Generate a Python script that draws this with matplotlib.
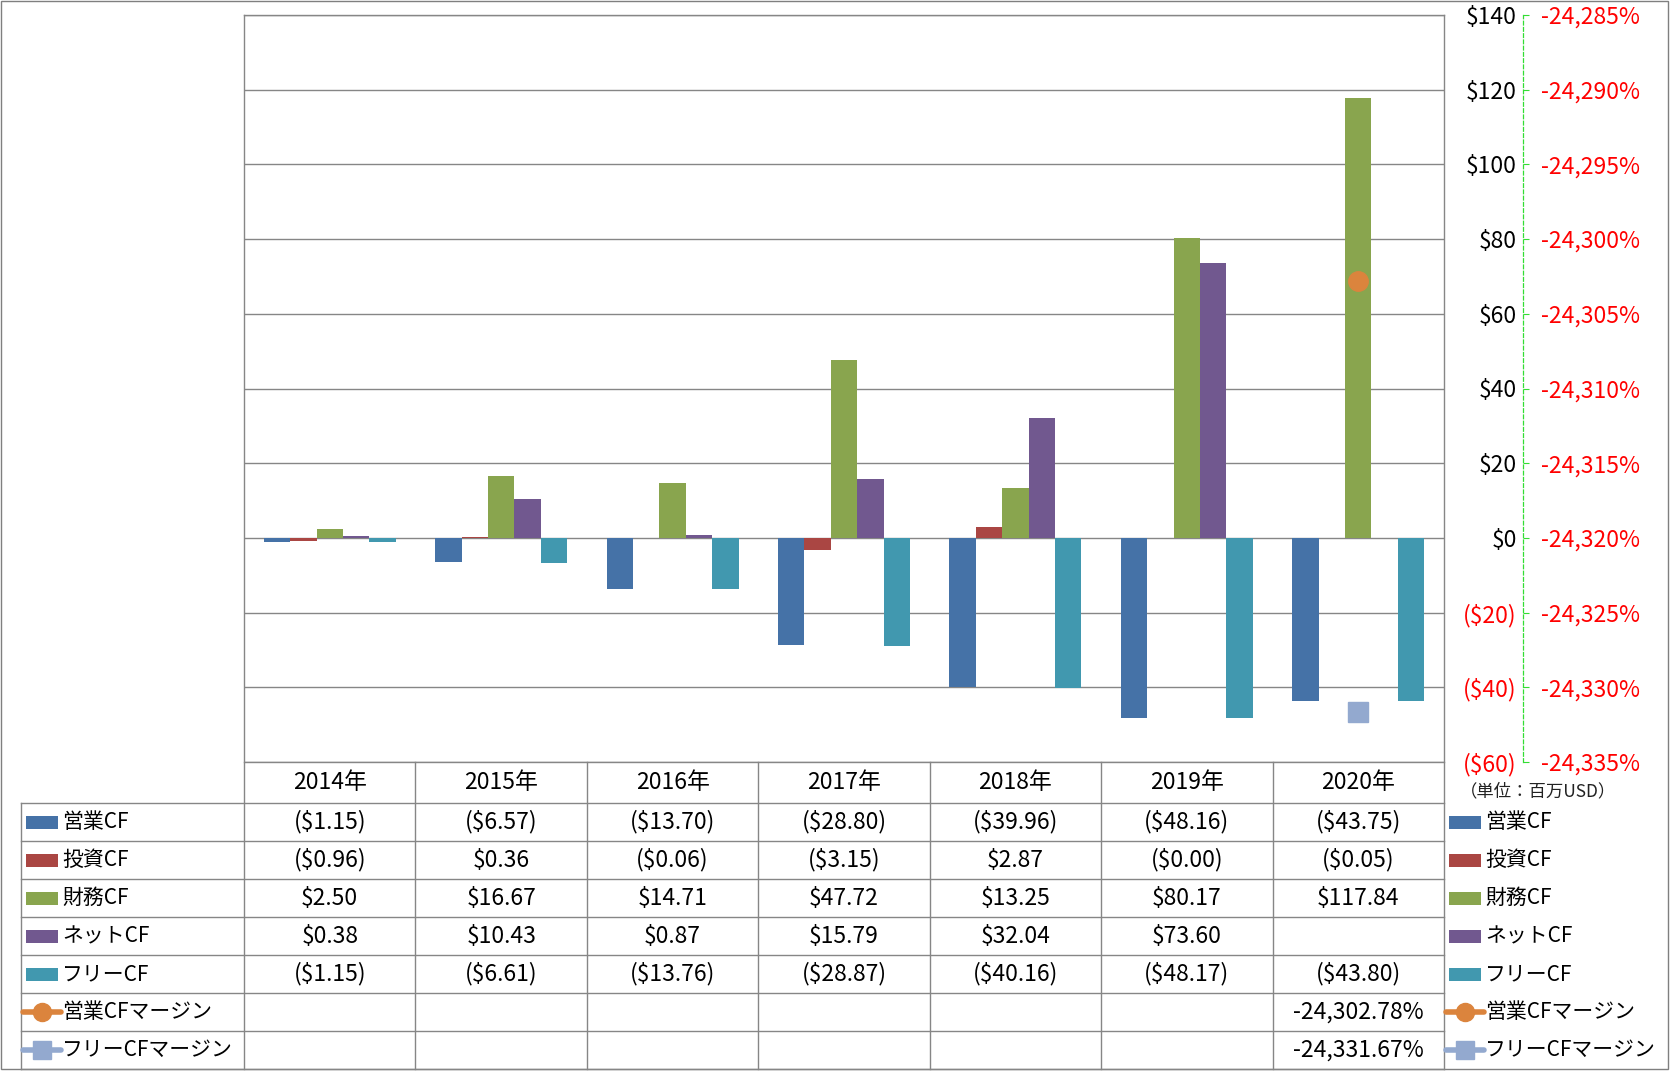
import matplotlib
matplotlib.use("Agg")
import matplotlib.pyplot as plt
from matplotlib.patches import Rectangle
import numpy as np

plt.rcParams['font.family'] = ['Noto Sans CJK JP', 'DejaVu Sans']

years = ["2014年", "2015年", "2016年", "2017年", "2018年", "2019年", "2020年"]
series_names = ["営業CF", "投資CF", "財務CF", "ネットCF", "フリーCF"]
op_cf = [-1.15, -6.57, -13.70, -28.80, -39.96, -48.16, -43.75]
inv_cf = [-0.96, 0.36, -0.06, -3.15, 2.87, -0.004, -0.05]
fin_cf = [2.50, 16.67, 14.71, 47.72, 13.25, 80.17, 117.84]
net_cf = [0.38, 10.43, 0.87, 15.79, 32.04, 73.60, None]
free_cf = [-1.15, -6.61, -13.76, -28.87, -40.16, -48.17, -43.80]
margin_names = ["営業CFマージン", "フリーCFマージン"]
op_margin = [None, None, None, None, None, None, -24302.78]
free_margin = [None, None, None, None, None, None, -24331.67]

bar_colors = ["#4572A7", "#AA4643", "#89A54E", "#71588F", "#4198AF"]
margin_colors = ["#DB843D", "#93A9CF"]
grid_c = "#868686"

W, H = 1671, 1071
fig = plt.figure(figsize=(W / 100, H / 100), dpi=100)

px_l, px_r, px_t, px_b = 244, 1444, 15, 762
ax = fig.add_axes([px_l / W, (H - px_b) / H, (px_r - px_l) / W, (px_b - px_t) / H])
ax.set_facecolor("none")

series = [op_cf, inv_cf, fin_cf, net_cf, free_cf]
bw = 0.154
x = np.arange(len(years))
for j, (vals, c) in enumerate(zip(series, bar_colors)):
    v = np.array([np.nan if a is None else a for a in vals], dtype=float)
    ax.bar(x + (j - 2) * bw, v, width=bw, color=c, zorder=3, linewidth=0)

ax.set_xlim(-0.5, 6.5)
ax.set_ylim(-60, 140)
yt = np.arange(-60, 141, 20)
ax.set_yticks(yt)
ax.yaxis.grid(True, color=grid_c, linewidth=1.0, zorder=0)
ax.set_axisbelow(True)
ax.set_xticks([])
for s in ax.spines.values():
    s.set_visible(False)

def dollar(v):
    return f"(${abs(v):,.0f})" if v < 0 else f"${v:,.0f}"

fs = 16.5
fs_leg = 15

# secondary axis
ax2 = ax.twinx()
ax2.set_ylim(-24335, -24285)
pt = np.arange(-24335, -24284, 5)
ax2.set_yticks(pt)
ax2.set_yticklabels([f"{v:,.0f}%" for v in pt])
for s in ["top", "left", "bottom"]:
    ax2.spines[s].set_visible(False)
ax2.spines["right"].set_position(("axes", (1523 - px_l) / (px_r - px_l)))
ax2.spines["right"].set_linestyle((0, (3, 2)))
ax2.spines["right"].set_color("#33DD33")
ax2.spines["right"].set_linewidth(0.9)
ax2.tick_params(axis='y', direction='out', length=4, color="#33DD33", pad=9,
                labelsize=fs, labelcolor='red')

# primary labels on right, right-aligned next to the green axis
ax.yaxis.tick_right()
ax.set_yticks(yt)
ax.set_yticklabels([dollar(v) for v in yt])
ax.tick_params(axis='y', which='both', left=False, right=True, labelleft=False,
               labelright=True, length=0, pad=52.5, labelsize=fs)
for lab, v in zip(ax.get_yticklabels(), yt):
    lab.set_horizontalalignment('right')
    lab.set_color('red' if v < 0 else 'black')

for vals, c, mk in zip([op_margin, free_margin], margin_colors, ["o", "s"]):
    v = np.array([np.nan if a is None else a for a in vals], dtype=float)
    ax2.plot(x, v, marker=mk, color=c, markersize=14,
             linestyle='-', linewidth=3, zorder=5)

# overlay for table, legends, frame
ov = fig.add_axes([0, 0, 1, 1])
ov.set_xlim(0, W)
ov.set_ylim(H, 0)
ov.axis('off')

lc = grid_c
lw = 1.0
col_w = (px_r - px_l) / len(years)
row_edges = [762, 803, 841, 879, 917, 955, 993, 1031, 1069]
left_x = 21

ov.plot([px_l, px_r], [px_t, px_t], color=lc, lw=lw)
ov.plot([px_l, px_l], [px_t, 1069], color=lc, lw=lw)
ov.plot([px_r, px_r], [px_t, 1069], color=lc, lw=lw)
ov.plot([px_l, px_r], [row_edges[0], row_edges[0]], color=lc, lw=lw)
for yy in row_edges[1:]:
    ov.plot([left_x, px_r], [yy, yy], color=lc, lw=lw)
ov.plot([left_x, left_x], [row_edges[1], 1069], color=lc, lw=lw)
for k in range(1, len(years)):
    xx = px_l + k * col_w
    ov.plot([xx, xx], [row_edges[0], 1069], color=lc, lw=lw)

ov.add_patch(Rectangle((1, 1), 1667, 1068, fill=False, edgecolor="#7f7f7f", lw=1.0))

centers = [(row_edges[i] + row_edges[i + 1]) / 2 for i in range(len(row_edges) - 1)]
for k, yr in enumerate(years):
    ov.text(px_l + (k + 0.5) * col_w, centers[0], yr, ha='center', va='center', fontsize=fs)

def money(v):
    if v is None:
        return ""
    return f"(${abs(v):,.2f})" if v < 0 else f"${v:,.2f}"

def pct(v):
    if v is None:
        return ""
    return f"{v:,.2f}%"

for i, vals in enumerate(series):
    for k, v in enumerate(vals):
        ov.text(px_l + (k + 0.5) * col_w, centers[i + 1], money(v), ha='center', va='center', fontsize=fs)
for i, vals in enumerate([op_margin, free_margin]):
    for k, v in enumerate(vals):
        ov.text(px_l + (k + 0.5) * col_w, centers[i + 6], pct(v), ha='center', va='center', fontsize=fs)

def legend_keys(x0, text_x):
    for i, (nm, c) in enumerate(zip(series_names, bar_colors)):
        cy = centers[i + 1]
        ov.add_patch(Rectangle((x0, cy - 6.5), 32, 13, color=c, lw=0))
        ov.text(text_x, cy, nm, ha='left', va='center', fontsize=fs_leg)
    for i, (nm, c, mk) in enumerate(zip(margin_names, margin_colors, ["o", "s"])):
        cy = centers[i + 6]
        ov.plot([x0 - 3, x0 + 35], [cy, cy], color=c, lw=4, solid_capstyle='round')
        ov.plot([x0 + 16], [cy], marker=mk, color=c, markersize=13)
        ov.text(text_x, cy, nm, ha='left', va='center', fontsize=fs_leg)

legend_keys(26, 62)
legend_keys(1449, 1485)

ov.text(1460, 791, "（単位：百万USD）", ha='left', va='center', fontsize=12.5, color="#222222")

fig.savefig("out.png", dpi=100)
